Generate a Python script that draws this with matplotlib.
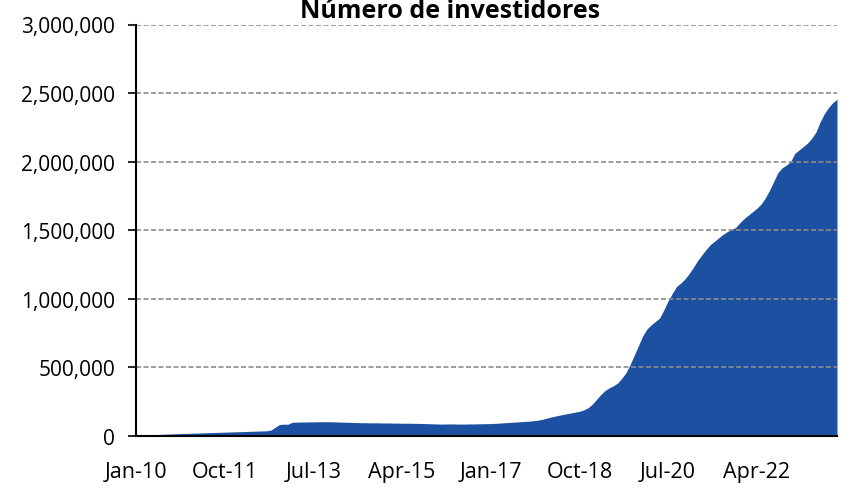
import matplotlib
matplotlib.use('Agg')
import matplotlib.pyplot as plt
from matplotlib.ticker import FuncFormatter

# monthly number of investors, Jan-10 .. Nov-23
y2010 = [5000, 6000, 7500, 8500, 10000, 11000, 12000, 13500, 14500, 16000, 17000, 18000]
y2011 = [19000, 20000, 21000, 22000, 23000, 24000, 25000, 26000, 27000, 28000, 29000, 30000]
y2012 = [31000, 32000, 33000, 34000, 35000, 36000, 37000, 38000, 44000, 65000, 84000, 86000]
y2013 = [86000, 100000, 101000, 102000, 102000, 103000, 103000, 104000, 104000, 104000, 104000, 103000]
y2014 = [102000, 101000, 100000, 99000, 98000, 97000, 97000, 96000, 96000, 96000, 95000, 95000]
y2015 = [95000, 94000, 94000, 93000, 93000, 93000, 92000, 92000, 91000, 90000, 89000, 88000]
y2016 = [87000, 87000, 88000, 88000, 87000, 87000, 87000, 88000, 88000, 89000, 89000, 90000]
y2017 = [91000, 92000, 94000, 96000, 98000, 100000, 102000, 104000, 106000, 108000, 111000, 115000]
y2018 = [120000, 128000, 136000, 143000, 150000, 156000, 162000, 168000, 174000, 180000, 190000, 205000]
y2019 = [230000, 265000, 300000, 330000, 350000, 365000, 385000, 420000, 460000, 520000, 590000, 660000]
y2020 = [731000, 780000, 810000, 835000, 860000, 920000, 985000, 1040000, 1090000, 1115000, 1145000, 1185000]
y2021 = [1230000, 1280000, 1320000, 1360000, 1395000, 1420000, 1445000, 1470000, 1490000, 1505000, 1520000, 1555000]
y2022 = [1585000, 1610000, 1635000, 1660000, 1690000, 1735000, 1790000, 1855000, 1920000, 1955000, 1975000, 2000000]
y2023 = [2060000, 2085000, 2110000, 2135000, 2170000, 2215000, 2290000, 2350000, 2395000, 2430000, 2455000]

investidores = (y2010 + y2011 + y2012 + y2013 + y2014 + y2015 + y2016
                + y2017 + y2018 + y2019 + y2020 + y2021 + y2022 + y2023)

tick_labels = ["Jan-10", "Oct-11", "Jul-13", "Apr-15", "Jan-17", "Oct-18", "Jul-20", "Apr-22"]
tick_step = 21

plt.rcParams['font.family'] = ['Open Sans', 'DejaVu Sans']

fig = plt.figure(figsize=(8.52, 4.89), dpi=100)
ax = fig.add_axes([136 / 852, 1 - 437 / 489, (837 - 136) / 852, (437 - 25.5) / 489])

x = list(range(len(investidores)))
ax.fill_between(x, 0, investidores, color='#1C51A1', linewidth=0)

ax.set_xlim(0, len(investidores) - 1)
ax.set_ylim(0, 3000000)
ax.set_yticks(range(0, 3000001, 500000))
ax.yaxis.set_major_formatter(FuncFormatter(lambda v, p: "{:,.0f}".format(v)))
ax.set_xticks([i * tick_step for i in range(len(tick_labels))])
ax.set_xticklabels(tick_labels)

ax.grid(axis='y', color='#8c8c8c', linestyle=(0, (3, 1.5)), linewidth=1.2)
for gl in ax.get_ygridlines():
    gl.set_zorder(0.5)

for s in ['top', 'right']:
    ax.spines[s].set_visible(False)
ax.spines['left'].set_linewidth(1.5)
ax.spines['bottom'].set_linewidth(1.5)
ax.spines['left'].set_zorder(3)
ax.spines['bottom'].set_zorder(3)

ax.tick_params(axis='y', length=6, width=1.2, pad=9, labelsize=15)
ax.tick_params(axis='x', length=0, pad=18, labelsize=15.5)

fig.text(450 / 852, 1 - 17.5 / 489, "Número de investidores", ha='center', va='baseline',
         fontsize=18, fontweight='bold')

fig.savefig('out.png', dpi=100)
